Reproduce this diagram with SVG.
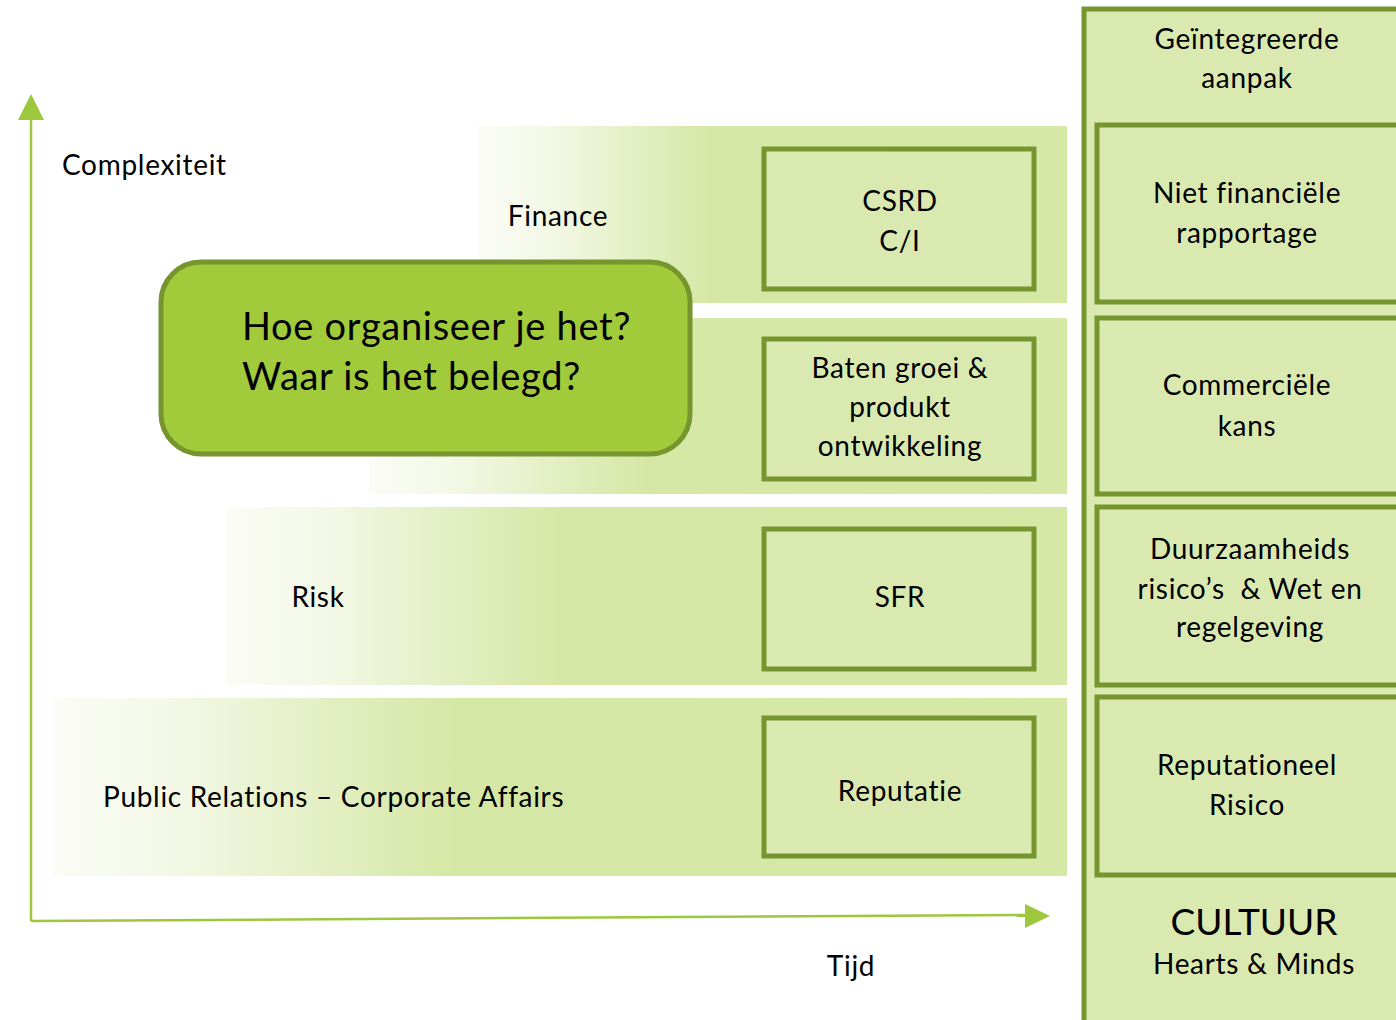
<svg xmlns="http://www.w3.org/2000/svg" width="1396" height="1020" viewBox="0 0 1396 1020">
<defs>
<linearGradient id="band" x1="0" y1="0" x2="1" y2="0">
<stop offset="0" stop-color="#fbfcf6"/>
<stop offset="0.12" stop-color="#f3f8e6"/>
<stop offset="0.4" stop-color="#d5e7a4"/>
<stop offset="1" stop-color="#d6e8a6"/>
</linearGradient>
<style>
text{font-family:Lato,"Open Sans","Liberation Sans",sans-serif;fill:#000;text-anchor:middle}
.t{font-size:28px;letter-spacing:0.7px}
.l{text-anchor:start}
.q{font-size:38px;letter-spacing:0.7px}
.pre{white-space:pre}
.box{fill:#d9e9b0;stroke:#77952e;stroke-width:5}
.axis{stroke:#9dc83d;stroke-width:2.5;fill:none}
.head{fill:#9dc83d}
</style>
</defs>
<rect width="1396" height="1020" fill="#fff"/>

<g id="axes">
<line class="axis" x1="31" y1="921" x2="31" y2="118"/>
<polygon class="head" points="18,120 31,94 44,120"/>
<polyline class="axis" points="31,921 1026,915"/>
<polygon class="head" points="1025,904 1050,916 1025,928"/>
<text class="t l" x="62" y="175">Complexiteit</text>
<text class="t" x="851" y="976">Tijd</text>
</g>

<g id="band-finance">
<rect x="478" y="126" width="589" height="177" fill="url(#band)"/>
<text class="t" x="558" y="226">Finance</text>
</g>
<g id="band-baten">
<rect x="369" y="318" width="698" height="176" fill="url(#band)"/>
</g>
<g id="band-risk">
<rect x="226" y="507" width="841" height="178" fill="url(#band)"/>
<text class="t" x="318" y="607">Risk</text>
</g>
<g id="band-pr">
<rect x="53" y="698" width="1014" height="178" fill="url(#band)"/>
<text class="t l" x="103" y="807">Public Relations – Corporate Affairs</text>
</g>

<g id="csrd">
<rect class="box" x="764" y="149" width="270" height="140"/>
<text class="t" x="900" y="211">CSRD</text>
<text class="t" x="900" y="251">C/I</text>
</g>
<g id="baten">
<rect class="box" x="764" y="339" width="270" height="140"/>
<text class="t" x="900" y="378">Baten groei &amp;</text>
<text class="t" x="900" y="417">produkt</text>
<text class="t" x="900" y="456">ontwikkeling</text>
</g>
<g id="sfr">
<rect class="box" x="764" y="529" width="270" height="140"/>
<text class="t" x="900" y="607">SFR</text>
</g>
<g id="reputatie">
<rect class="box" x="764" y="718" width="270" height="138"/>
<text class="t" x="900" y="801">Reputatie</text>
</g>

<g id="question">
<rect x="161" y="262" width="529" height="192" rx="40" fill="#a1cb3a" stroke="#77952e" stroke-width="5"/>
<text class="q l" x="242" y="340">Hoe organiseer je het?</text>
<text class="q l" x="242" y="390">Waar is het belegd?</text>
</g>

<g id="integrated">
<rect x="1084" y="9" width="330" height="1030" fill="#d9e9b0" stroke="#77952e" stroke-width="5"/>
<text class="t" x="1247" y="49">Geïntegreerde</text>
<text class="t" x="1247" y="88">aanpak</text>
<text x="1254" y="935" font-size="37">CULTUUR</text>
<text class="t" x="1254" y="974">Hearts &amp; Minds</text>
</g>
<g id="niet-financiele">
<rect class="box" x="1097" y="125" width="320" height="177"/>
<text class="t" x="1247" y="203">Niet financiële</text>
<text class="t" x="1247" y="243">rapportage</text>
</g>
<g id="commerciele">
<rect class="box" x="1097" y="318" width="320" height="176"/>
<text class="t" x="1247" y="395">Commerciële</text>
<text class="t" x="1247" y="436">kans</text>
</g>
<g id="duurzaamheid">
<rect class="box" x="1097" y="507" width="320" height="178"/>
<text class="t" x="1250" y="559">Duurzaamheids</text>
<text class="t pre" x="1250" y="599" xml:space="preserve">risico’s  &amp; Wet en</text>
<text class="t" x="1250" y="637">regelgeving</text>
</g>
<g id="reputationeel">
<rect class="box" x="1097" y="697" width="320" height="178"/>
<text class="t" x="1247" y="775">Reputationeel</text>
<text class="t" x="1247" y="815">Risico</text>
</g>
</svg>
